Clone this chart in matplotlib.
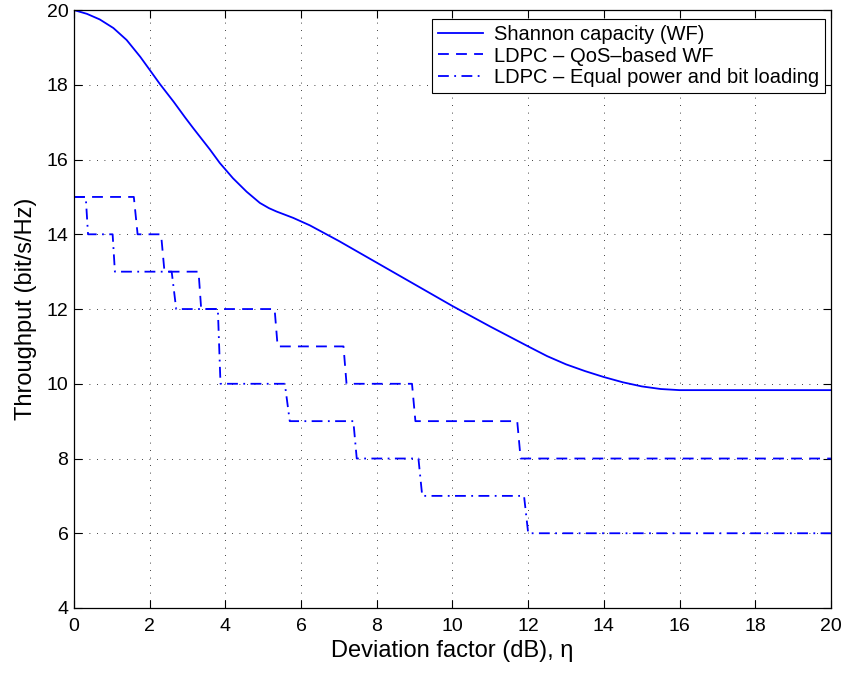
import numpy as np
import matplotlib
matplotlib.use("Agg")
import matplotlib.pyplot as plt

plt.rcParams['font.family'] = ['Liberation Sans', 'DejaVu Sans']

# Shannon capacity (WF)
shannon_x = [0, 0.34, 0.68, 1.04, 1.39, 1.75, 2.0, 2.27, 2.63, 2.94, 3.15, 3.59, 3.85, 4.2,
             4.56, 4.91, 5.15, 5.35, 5.79, 6.23, 7, 8, 9, 10, 11, 12, 12.5, 13, 13.5, 14,
             14.5, 15, 15.5, 16, 18, 20]
shannon_y = [20, 19.90, 19.75, 19.52, 19.20, 18.75, 18.40, 18.02, 17.55, 17.12, 16.84, 16.27,
             15.91, 15.50, 15.14, 14.84, 14.70, 14.61, 14.44, 14.24, 13.82, 13.24, 12.66, 12.08,
             11.53, 11.0, 10.74, 10.52, 10.34, 10.18, 10.04, 9.93, 9.86, 9.83, 9.83, 9.83]

# LDPC - QoS-based WF (levels, and x where each drop starts / ends)
qos_levels = [15, 14, 13, 12, 11, 10, 9, 8]
qos_drop_start = [1.58, 2.30, 3.29, 5.30, 7.12, 8.93, 11.71]
qos_drop_end = [1.68, 2.39, 3.36, 5.38, 7.20, 9.02, 11.80]

# LDPC - Equal power and bit loading
eq_levels = [15, 14, 13, 12, 10, 9, 8, 7, 6]
eq_drop_start = [0.31, 1.02, 2.58, 3.80, 5.57, 7.38, 9.10, 11.89]
eq_drop_end = [0.37, 1.08, 2.70, 3.87, 5.70, 7.47, 9.20, 12.00]

x_min, x_max = 0, 20


def build_steps(levels, starts, ends):
    xs = [x_min]
    ys = [levels[0]]
    for i in range(len(starts)):
        xs += [starts[i], ends[i]]
        ys += [levels[i], levels[i + 1]]
    xs.append(x_max)
    ys.append(levels[-1])
    return xs, ys


fig = plt.figure(figsize=(8.45, 6.73), dpi=100)
ax = fig.add_axes([0.0876, 0.0966, 0.8958, 0.8884])

qx, qy = build_steps(qos_levels, qos_drop_start, qos_drop_end)
ex, ey = build_steps(eq_levels, eq_drop_start, eq_drop_end)

ax.plot(shannon_x, shannon_y, color='#0000ff', lw=1.3, label='Shannon capacity (WF)')
ax.plot(qx, qy, color='#0000ff', lw=1.3, linestyle=(0, (6, 4)), label='LDPC – QoS–based WF')
ax.plot(ex, ey, color='#0000ff', lw=1.3, linestyle=(0, (6, 3, 1, 3)),
        label='LDPC – Equal power and bit loading')

ax.set_xlim(0, 20)
ax.set_ylim(4, 20)
ax.set_xticks(np.arange(0, 21, 2))
ax.set_yticks(np.arange(4, 21, 2))
ax.tick_params(direction='in', top=True, right=True, labelsize=14, length=6, width=0.8)
ax.tick_params(axis='x', pad=7)
ax.tick_params(axis='y', pad=4)
ax.grid(True, color='black', linestyle=(0, (1, 8)), linewidth=0.6)
for s in ax.spines.values():
    s.set_linewidth(0.9)

ax.set_xlabel('Deviation factor (dB), η', fontsize=17, labelpad=4)
ax.set_ylabel('Throughput (bit/s/Hz)', fontsize=17, labelpad=7)

leg = ax.legend(loc='upper right', bbox_to_anchor=(0.992, 0.985), fontsize=14.5,
                frameon=True, fancybox=False, edgecolor='black', framealpha=1,
                handlelength=2.2, borderpad=0.3, labelspacing=0.12,
                handletextpad=0.55, borderaxespad=0.0)
leg.get_frame().set_linewidth(0.8)

fig.savefig('out.png', dpi=100)
